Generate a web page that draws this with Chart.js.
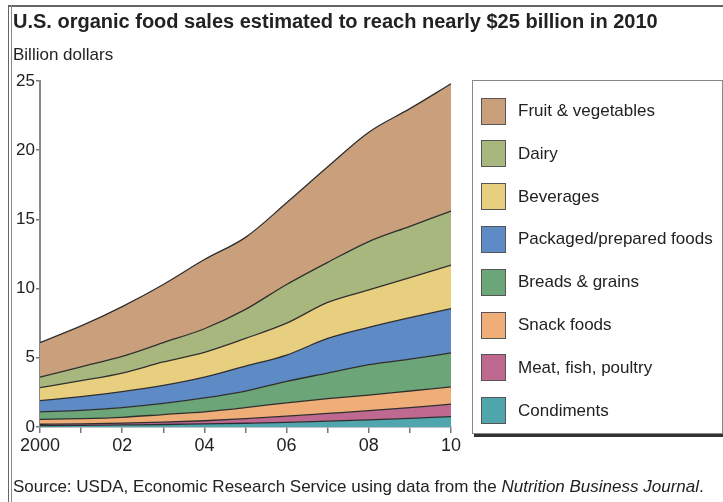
<!DOCTYPE html>
<html>
<head>
<meta charset="utf-8">
<script src="https://cdn.jsdelivr.net/npm/chart.js@4/dist/chart.umd.min.js"></script>
<style>
  body { margin: 0; background: #fff; font-family: "Liberation Sans", Arial, sans-serif; color: #222; }
  #wrap { position: relative; width: 723px; height: 502px; overflow: hidden; }
  #frameTop { position: absolute; left: 8px; top: 5px; width: 715px; height: 2px; background: #666; }
  #frameLeft { position: absolute; left: 8px; top: 5px; width: 1px; height: 497px; background: #666; }
  #frameLeft2 { position: absolute; left: 11px; top: 5px; width: 1px; height: 497px; background: #888; }
  #title { position: absolute; left: 13px; top: 10px; font-size: 20px; font-weight: bold; white-space: nowrap; }
  #unit { position: absolute; left: 13px; top: 45px; font-size: 17px; }
  #source { position: absolute; left: 13px; top: 477px; font-size: 17px; white-space: nowrap; }
  #legend { position: absolute; left: 472px; top: 80px; width: 249px; height: 352px; border: 1px solid #888; box-shadow: 2px 3px 0 #333; background: #fff; }
  .item { position: absolute; left: 8px; height: 28px; display: flex; align-items: center; }
  .sw { width: 25px; height: 27px; border: 1px solid #555; box-sizing: border-box; margin-right: 12px; }
  .lab { font-size: 17px; }
  canvas { position: absolute; left: 0; top: 0; }
</style>
</head>
<body>
<div id="wrap">
  <canvas id="chart" width="723" height="502"></canvas>
  <div id="frameTop"></div>
  <div id="frameLeft"></div>
  <div id="frameLeft2"></div>
  <div id="title">U.S. organic food sales estimated to reach nearly $25 billion in 2010</div>
  <div id="unit">Billion dollars</div>
  <div id="legend"></div>
  <div id="source">Source: USDA, Economic Research Service using data from the <i>Nutrition Business Journal</i>.</div>
</div>
<script>
// years on the x axis, labels shown on even years only
const years = [2000, 2001, 2002, 2003, 2004, 2005, 2006, 2007, 2008, 2009, 2010];
const tickLabels = ["2000", "", "02", "", "04", "", "06", "", "08", "", "10"];
const yTicks = [0, 5, 10, 15, 20, 25];

// billion dollars per category
const condiments = [0.1, 0.12, 0.15, 0.18, 0.22, 0.27, 0.33, 0.42, 0.52, 0.63, 0.75];
const meat = [0.1, 0.11, 0.13, 0.17, 0.23, 0.33, 0.45, 0.56, 0.66, 0.77, 0.9];
const snacks = [0.35, 0.37, 0.42, 0.55, 0.65, 0.8, 0.97, 1.07, 1.12, 1.2, 1.25];
const breads = [0.55, 0.6, 0.7, 0.8, 1.0, 1.2, 1.55, 1.85, 2.2, 2.3, 2.45];
const packaged = [0.8, 1.0, 1.15, 1.3, 1.5, 1.8, 1.9, 2.5, 2.7, 3.0, 3.2];
const beverages = [0.95, 1.15, 1.35, 1.7, 1.8, 2.0, 2.3, 2.6, 2.7, 2.9, 3.15];
const dairy = [0.75, 1.0, 1.2, 1.4, 1.7, 2.1, 2.8, 2.9, 3.5, 3.7, 3.9];
const fruitVeg = [2.5, 2.95, 3.6, 4.2, 5.0, 5.2, 5.9, 6.9, 7.9, 8.5, 9.2];

const categories = ["Condiments", "Meat, fish, poultry", "Snack foods", "Breads & grains",
  "Packaged/prepared foods", "Beverages", "Dairy", "Fruit & vegetables"];
const seriesValues = [condiments, meat, snacks, breads, packaged, beverages, dairy, fruitVeg];
const colors = ["#4fa6ad", "#bf6890", "#efae78", "#6ca577", "#5e8bc6", "#e7cf7f", "#a8b77e", "#c9a07b"];

// legend, top item is the top area
const legend = document.querySelector("#legend");
for (let i = categories.length - 1, row = 0; i >= 0; i--, row++) {
  const item = document.createElement("div");
  item.className = "item";
  item.style.top = (16 + row * 42.8) + "px";
  item.innerHTML = `<div class="sw" style="background:${colors[i]}"></div><span class="lab">${categories[i]}</span>`;
  legend.appendChild(item);
}

const datasets = categories.map((name, i) => ({
  label: name,
  data: seriesValues[i],
  backgroundColor: colors[i],
  borderColor: "#2f2f2f",
  borderWidth: 1.3,
  pointRadius: 0,
  fill: i === 0 ? "origin" : "-1",
  cubicInterpolationMode: "monotone",
}));

const ctx = document.querySelector("#chart").getContext("2d");
new Chart(ctx, {
  type: "line",
  data: { labels: years, datasets: datasets },
  options: {
    responsive: false,
    animation: false,
    layout: { padding: { left: 0, right: 272, top: 81, bottom: 45 } },
    plugins: { legend: { display: false }, tooltip: { enabled: false } },
    scales: {
      x: {
        offset: false,
        afterFit: (scale) => { scale.height = 30; },
        grid: { drawOnChartArea: false, tickLength: 6, color: "#777", lineWidth: 1.5 },
        border: { color: "#888", width: 1.5 },
        ticks: {
          autoSkip: false,
          maxRotation: 0,
          padding: 2,
          color: "#222",
          font: { family: "Liberation Sans", size: 18 },
          callback: (value, index) => tickLabels[index],
        },
      },
      y: {
        stacked: true,
        min: 0,
        max: 25,
        afterFit: (scale) => { scale.width = 40; },
        afterBuildTicks: (scale) => { scale.ticks = yTicks.map((v) => ({ value: v })); },
        grid: { drawOnChartArea: false, tickLength: 4, color: "#777", lineWidth: 1.5 },
        border: { color: "#888", width: 2 },
        ticks: {
          padding: 1,
          color: "#222",
          font: { family: "Liberation Sans", size: 17 },
        },
      },
    },
  },
});
</script>
</body>
</html>
